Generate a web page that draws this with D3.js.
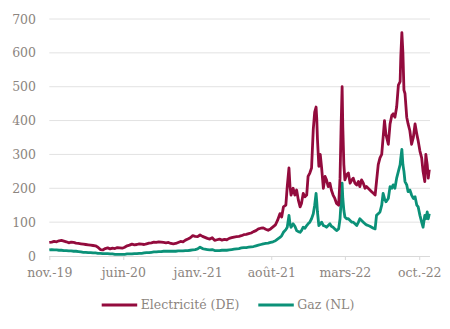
<!DOCTYPE html>
<html><head><meta charset="utf-8">
<script src="https://cdn.jsdelivr.net/npm/d3@7"></script>
<style>html,body{margin:0;padding:0;background:#fff;}svg{display:block;}</style>
</head><body><svg id="c" width="450" height="329"></svg>
<script>
const dates = ["2019-11-01","2019-11-08","2019-11-15","2019-11-22","2019-11-29","2019-12-06","2019-12-13","2019-12-20","2019-12-27","2020-01-03","2020-01-10","2020-01-17","2020-01-24","2020-01-31","2020-02-07","2020-02-14","2020-02-21","2020-02-28","2020-03-06","2020-03-13","2020-03-20","2020-03-27","2020-04-03","2020-04-10","2020-04-17","2020-04-24","2020-05-01","2020-05-08","2020-05-15","2020-05-22","2020-05-29","2020-06-05","2020-06-12","2020-06-19","2020-06-26","2020-07-03","2020-07-10","2020-07-17","2020-07-24","2020-07-31","2020-08-07","2020-08-14","2020-08-21","2020-08-28","2020-09-04","2020-09-11","2020-09-18","2020-09-25","2020-10-02","2020-10-09","2020-10-16","2020-10-23","2020-10-30","2020-11-06","2020-11-13","2020-11-20","2020-11-27","2020-12-04","2020-12-11","2020-12-18","2020-12-25","2021-01-01","2021-01-08","2021-01-15","2021-01-22","2021-01-29","2021-02-05","2021-02-12","2021-02-19","2021-02-26","2021-03-05","2021-03-12","2021-03-19","2021-03-26","2021-04-02","2021-04-09","2021-04-16","2021-04-23","2021-04-30","2021-05-07","2021-05-14","2021-05-21","2021-05-28","2021-06-04","2021-06-11","2021-06-18","2021-06-25","2021-07-02","2021-07-09","2021-07-16","2021-07-23","2021-07-30","2021-08-06","2021-08-13","2021-08-19","2021-08-26","2021-08-31","2021-09-05","2021-09-12","2021-09-16","2021-09-21","2021-09-24","2021-09-27","2021-10-03","2021-10-08","2021-10-13","2021-10-18","2021-10-23","2021-10-27","2021-11-01","2021-11-06","2021-11-11","2021-11-15","2021-11-20","2021-11-25","2021-11-30","2021-12-04","2021-12-08","2021-12-10","2021-12-12","2021-12-16","2021-12-20","2021-12-24","2021-12-29","2022-01-03","2022-01-07","2022-01-12","2022-01-17","2022-01-21","2022-01-26","2022-01-31","2022-02-05","2022-02-11","2022-02-15","2022-02-18","2022-02-21","2022-02-23","2022-02-26","2022-03-01","2022-03-06","2022-03-11","2022-03-16","2022-03-21","2022-03-25","2022-03-30","2022-04-04","2022-04-09","2022-04-13","2022-04-18","2022-04-23","2022-04-28","2022-05-02","2022-05-07","2022-05-12","2022-05-17","2022-05-22","2022-05-27","2022-05-31","2022-06-05","2022-06-10","2022-06-15","2022-06-19","2022-06-23","2022-06-27","2022-07-04","2022-07-09","2022-07-14","2022-07-18","2022-07-23","2022-07-28","2022-08-02","2022-08-07","2022-08-09","2022-08-12","2022-08-15","2022-08-18","2022-08-21","2022-08-26","2022-08-30","2022-09-04","2022-09-09","2022-09-14","2022-09-19","2022-09-24","2022-09-28","2022-10-03","2022-10-08","2022-10-12","2022-10-17","2022-10-20","2022-10-24","2022-10-27","2022-10-30"];

const elec = [40,41,43,42,45,46,44,42,39,41,40,38,37,36,35,34,33,32,31,30,26,19,18,22,24,21,23,22,25,24,23,26,30,32,35,33,34,36,35,34,36,38,39,41,40,42,41,40,39,40,37,36,37,40,43,42,47,50,54,60,58,57,62,58,55,52,50,54,46,48,50,47,49,48,52,54,56,57,58,60,63,64,66,68,72,75,80,82,83,79,76,80,86,92,105,125,115,145,150,205,260,205,180,200,180,195,165,145,155,185,175,180,235,245,260,375,425,440,405,345,265,300,260,200,235,225,205,215,195,180,170,155,150,230,380,500,380,270,225,240,245,215,225,230,215,210,220,205,225,215,200,205,200,195,190,185,180,220,270,290,300,350,400,360,330,390,415,420,410,440,505,515,590,660,600,490,480,410,390,370,330,350,390,360,340,310,290,250,220,300,270,230,255];

const gas = [18,19,18,18,17,17,16,16,15,15,14,14,13,12,11,11,10,10,9,9,8,8,7,7,7,6,6,5,5,5,5,5,6,6,6,7,7,8,8,9,10,10,11,12,12,13,13,14,14,14,14,14,14,15,15,15,16,16,17,18,19,21,26,22,20,19,18,19,16,16,16,17,17,17,18,19,20,21,22,24,25,25,26,27,28,30,32,34,36,37,38,40,42,45,50,55,60,70,78,85,120,95,85,95,88,75,72,70,75,85,82,90,95,100,110,125,150,185,160,130,90,95,100,90,88,85,90,95,88,85,80,75,80,110,160,215,170,135,115,110,110,105,100,100,95,90,100,110,105,100,95,92,90,88,85,82,80,120,125,130,150,185,170,160,170,205,200,210,200,230,250,270,290,315,270,250,220,210,190,195,180,170,175,150,145,120,100,85,120,110,130,110,125];

const yTicks = [0,100,200,300,400,500,600,700];
const xTickDates = ["2019-11-01","2020-06-01","2021-01-01","2021-08-01","2022-03-01","2022-10-01"];
const xTickLabels = ["nov.-19","juin-20","janv.-21","août-21","mars-22","oct.-22"];
const seriesNames = ["Electricité (DE)","Gaz (NL)"];
const colors = ["#930b3d","#0b9178"];

const parse = d3.timeParse("%Y-%m-%d");
const svg = d3.select("#c");
const font = "'DejaVu Serif', 'Liberation Serif', serif";
const textColor = "#8c8580";

const x = d3.scaleTime().domain([parse("2019-11-01"), parse("2022-11-01")]).range([49.3, 430]);
const y = d3.scaleLinear().domain([0,700]).range([256,19]);

// gridlines
svg.append("g").selectAll("line").data(yTicks.filter(d=>d>0)).join("line")
  .attr("x1",49.3).attr("x2",430).attr("y1",d=>y(d)).attr("y2",d=>y(d))
  .attr("stroke","#e2e2e2").attr("stroke-width",1);

// y labels
const yAxis = d3.axisLeft(y).tickValues(yTicks).tickSize(0).tickPadding(0);
const ya = svg.append("g").attr("transform","translate(36,0)").call(yAxis);
ya.select(".domain").remove();
ya.selectAll("text").attr("font-family",font).attr("font-size",12.5).attr("fill",textColor).attr("text-anchor","end");

// x axis
const xAxis = d3.axisBottom(x).tickValues(xTickDates.map(parse)).tickSize(4).tickPadding(8)
  .tickFormat((d,i)=>xTickLabels[i]);
const xa = svg.append("g").attr("transform","translate(0,256)").call(xAxis);
xa.select(".domain").attr("stroke","#d9d9d9").attr("d","M49.3,0.5H430");
xa.selectAll(".tick line").attr("stroke","#d9d9d9");
xa.selectAll("text").attr("font-family",font).attr("font-size",12.5).attr("fill",textColor);

// lines
const line = d3.line().x((d,i)=>x(parse(dates[i]))).y(d=>y(d));
[gas, elec].forEach((s,k)=>{
  svg.append("path").attr("d", line(s)).attr("fill","none")
    .attr("stroke", k===0?colors[1]:colors[0]).attr("stroke-width",2.8)
    .attr("stroke-linejoin","round");
});

// legend
const leg = [{name:seriesNames[0],c:colors[0],x:101.7},{name:seriesNames[1],c:colors[1],x:258.3}];
leg.forEach(l=>{
  svg.append("line").attr("x1",l.x).attr("x2",l.x+35.5).attr("y1",305).attr("y2",305)
    .attr("stroke",l.c).attr("stroke-width",2.8);
  svg.append("text").attr("x",l.x+39).attr("y",305).attr("dy","0.35em")
    .attr("font-family",font).attr("font-size",12.5).attr("fill",textColor).text(l.name);
});
</script></body></html>
